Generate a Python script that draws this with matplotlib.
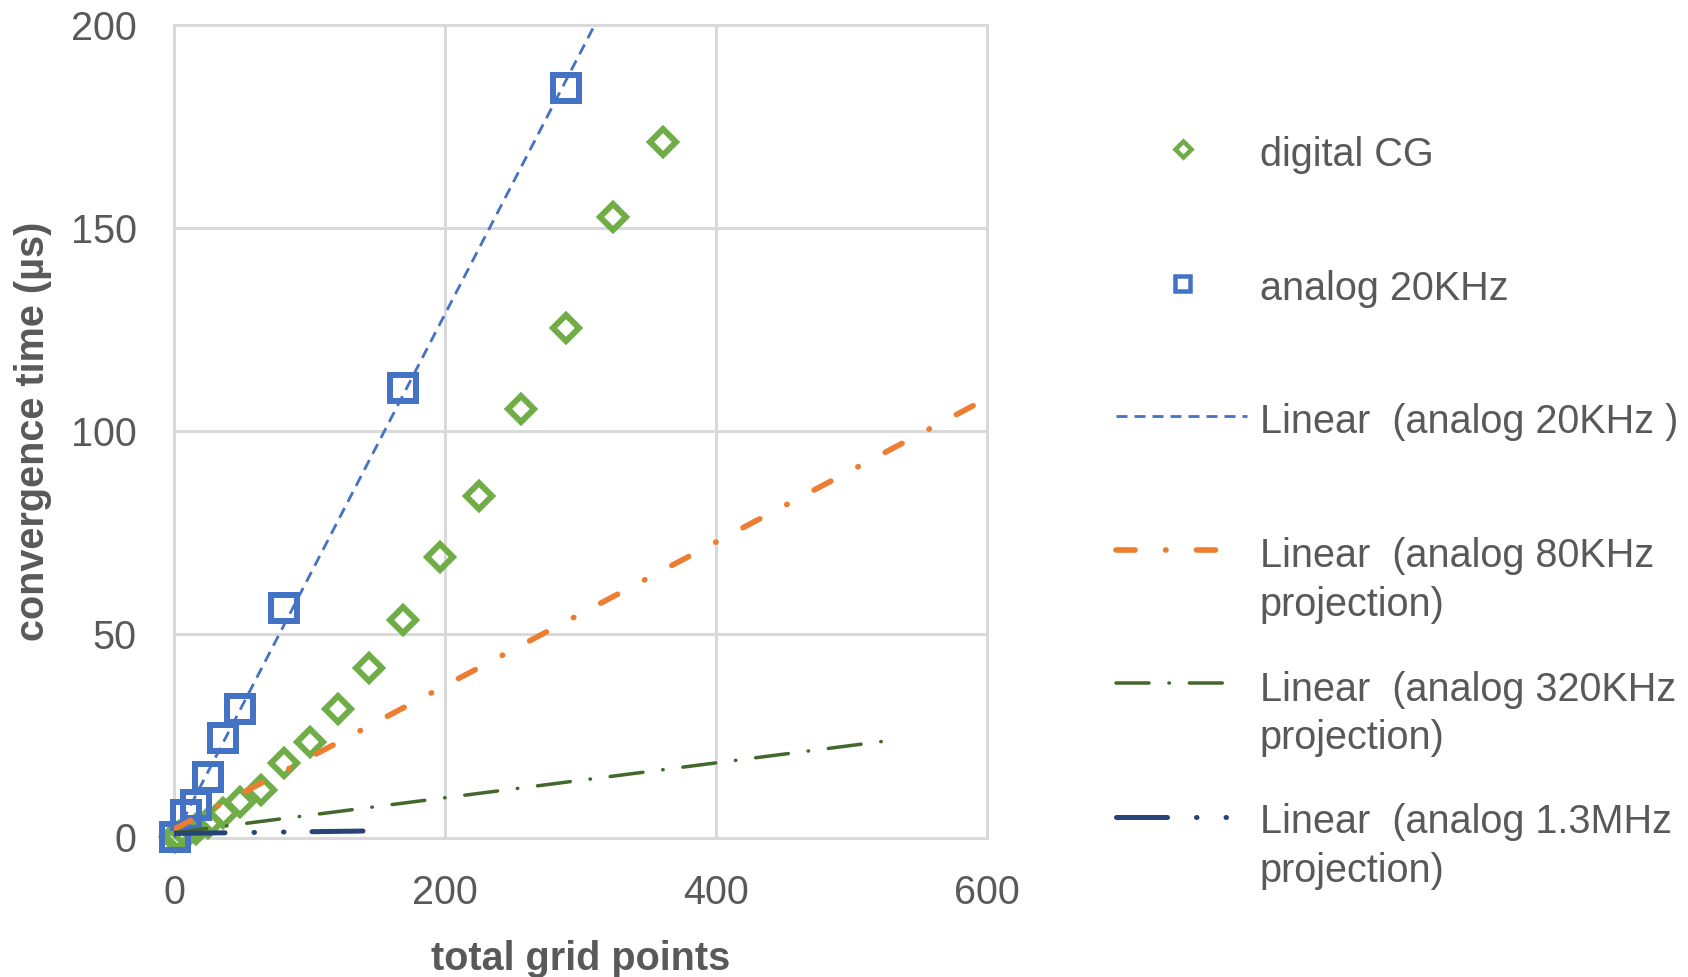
import matplotlib
matplotlib.use("Agg")
import matplotlib.pyplot as plt
from matplotlib.lines import Line2D

plt.rcParams['font.family'] = ['Liberation Sans', 'DejaVu Sans']
plt.rcParams['lines.scale_dashes'] = False

# ---- data ----
grid_digital = [1, 4, 9, 16, 25, 36, 49, 64, 81, 100, 121, 144, 169, 196, 225, 256, 289, 324, 361]
time_digital = [0.1, 0.4, 1.0, 2.0, 3.5, 6.0, 8.8, 11.7, 18.3, 23.6, 31.5, 41.6, 53.5, 69.1, 84.0, 105.4, 125.3, 152.6, 171.1]

grid_analog = [1, 9, 16, 25, 36, 49, 81, 169, 289]
time_analog = [0.2, 5.6, 8.0, 15.0, 24.4, 31.5, 56.5, 110.5, 184.5]

trend_20k_x = [0, 320]
trend_20k_y = [0.0, 206.1]
trend_80k_x = [0, 590]
trend_80k_y = [2.0, 106.3]
trend_320k_x = [0, 522]
trend_320k_y = [1.2, 23.6]
trend_1m3_x = [0, 142]
trend_1m3_y = [1.0, 1.6]

x_ticks = [0, 200, 400, 600]
y_ticks = [0, 50, 100, 150, 200]

labels = ["digital CG", "analog 20KHz", "Linear  (analog 20KHz )",
          "Linear  (analog 80KHz\nprojection)", "Linear  (analog 320KHz\nprojection)",
          "Linear  (analog 1.3MHz\nprojection)"]

# ---- style ----
W, H = 1688, 977
C_BLUE = '#4472C4'
C_GREEN = '#70AD47'
C_ORANGE = '#ED7D31'
C_DKGREEN = '#43682B'
C_NAVY = '#264478'
C_GRID = '#D9D9D9'
C_TEXT = '#595959'
PX = 0.72  # points per pixel at dpi 100
FS = 28.5

styles = {
    'blue': dict(color=C_BLUE, lw=2.8 * PX, dashes=[11 * PX, 7 * PX], dash_capstyle='butt'),
    'orange': dict(color=C_ORANGE, lw=5.6 * PX, dashes=[19 * PX, 30.5 * PX, 0.5 * PX, 30.5 * PX], dash_capstyle='round'),
    'dkgreen': dict(color=C_DKGREEN, lw=3.5 * PX, dashes=[33 * PX, 19.9 * PX, 0.5 * PX, 19.9 * PX], dash_capstyle='round'),
    'navy': dict(color=C_NAVY, lw=5 * PX, dashes=[51 * PX, 29 * PX, 0.5 * PX, 29 * PX, 0.5 * PX, 28 * PX], dash_capstyle='round'),
}

fig = plt.figure(figsize=(W / 100, H / 100), dpi=100)
ax_l, ax_r, ax_t, ax_b = 174, 987, 24.8, 837.5
ax = fig.add_axes([ax_l / W, 1 - ax_b / H, (ax_r - ax_l) / W, (ax_b - ax_t) / H])

ax.set_xlim(0, 600)
ax.set_ylim(0, 200)
ax.set_xticks(x_ticks)
ax.set_yticks(y_ticks)
ax.grid(True, color=C_GRID, lw=3 * PX, zorder=0)
ax.set_axisbelow(True)
for s in ax.spines.values():
    s.set_color(C_GRID)
    s.set_linewidth(3 * PX)
ax.tick_params(length=0, labelsize=FS, labelcolor=C_TEXT)
ax.tick_params(axis='y', pad=27)
ax.tick_params(axis='x', pad=26.5)

# markers
ax.plot(grid_digital, time_digital, ls='none', marker='D', ms=18.4 * PX, mfc='none',
        mec=C_GREEN, mew=6 * PX, clip_on=False, zorder=3)
ax.plot(grid_analog, time_analog, ls='none', marker='s', ms=26 * PX, mfc='none',
        mec=C_BLUE, mew=6 * PX, clip_on=False, zorder=3)

# trend lines
ax.plot(trend_20k_x, trend_20k_y, zorder=4, **styles['blue'])
ax.plot(trend_80k_x, trend_80k_y, zorder=4, **styles['orange'])
ax.plot(trend_320k_x, trend_320k_y, zorder=4, **styles['dkgreen'])
ax.plot(trend_1m3_x, trend_1m3_y, zorder=5, **styles['navy'])

ax.set_xlabel("total grid points", fontsize=FS, fontweight='bold', color=C_TEXT)
ax.set_ylabel("convergence time (µs)", fontsize=FS, fontweight='bold', color=C_TEXT)
ax.xaxis.label.set_va('center')
ax.yaxis.label.set_va('center')
ax.xaxis.set_label_coords(0.5, -(959 - ax_b) / (ax_b - ax_t))
ax.yaxis.set_label_coords((33 - ax_l) / (ax_r - ax_l), 0.5)


# ---- manual legend (figure pixel coords) ----
def fx(x):
    return x / W


def fy(y):
    return 1 - y / H


tx = 1259.5
# digital CG
fig.add_artist(Line2D([fx(1183)], [fy(148.6)], ls='none', marker='D', ms=12 * PX, mfc='none',
                      mec=C_GREEN, mew=4.5 * PX, transform=fig.transFigure))
# analog 20KHz
fig.add_artist(Line2D([fx(1182)], [fy(283)], ls='none', marker='s', ms=15 * PX, mfc='none',
                      mec=C_BLUE, mew=4.5 * PX, transform=fig.transFigure))
fig.add_artist(Line2D([fx(1116), fx(1247)], [fy(415.5), fy(415.5)], transform=fig.transFigure, **styles['blue']))
fig.add_artist(Line2D([fx(1116), fx(1223)], [fy(550), fy(550)], transform=fig.transFigure, **styles['orange']))
fig.add_artist(Line2D([fx(1116), fx(1228)], [fy(682.5), fy(682.5)], transform=fig.transFigure, **styles['dkgreen']))
fig.add_artist(Line2D([fx(1116), fx(1230)], [fy(817), fy(817)], transform=fig.transFigure, **styles['navy']))

first_line_y = [150.7, 285.3, 417.7, 552.2, 685.7, 818.2]
line_gap = 48.5
for lab, yy in zip(labels, first_line_y):
    for i, part in enumerate(lab.split("\n")):
        fig.text(fx(tx), fy(yy + i * line_gap), part, fontsize=FS, color=C_TEXT,
                 ha='left', va='center_baseline')

fig.savefig("out.png", dpi=100)
